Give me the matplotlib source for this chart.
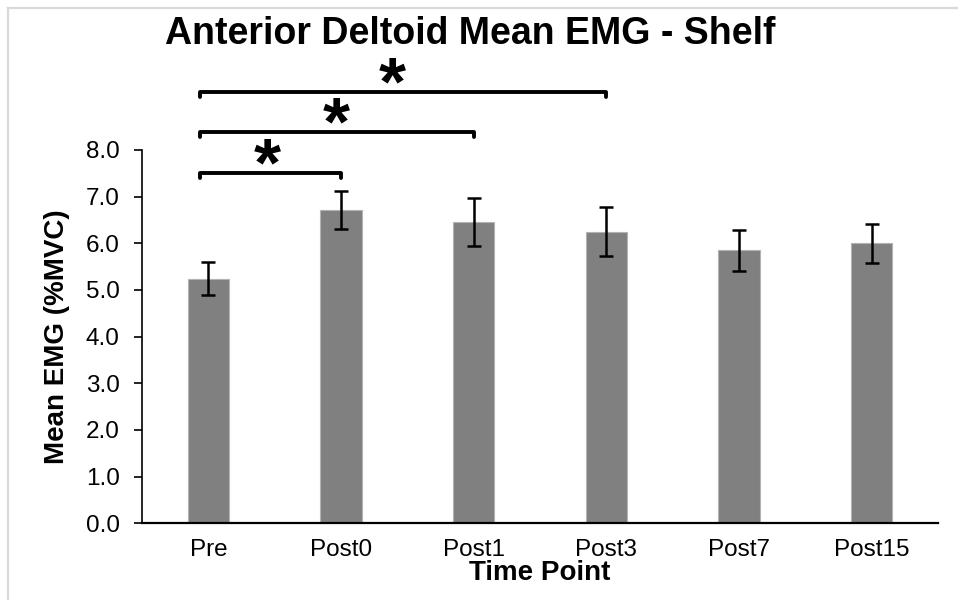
import matplotlib
matplotlib.use("Agg")
import matplotlib.pyplot as plt
from matplotlib.lines import Line2D

plt.rcParams['font.family'] = ['Liberation Sans', 'DejaVu Sans']

# ---- data ----
categories = ["Pre", "Post0", "Post1", "Post3", "Post7", "Post15"]
means = [5.24, 6.71, 6.46, 6.25, 5.85, 6.00]
errors = [0.35, 0.41, 0.51, 0.52, 0.44, 0.42]
y_ticks = [0.0, 1.0, 2.0, 3.0, 4.0, 5.0, 6.0, 7.0, 8.0]
# significance comparisons: (from index, to index, bracket height, star label)
comparisons = [(0, 1, 7.51, "*"), (0, 2, 8.39, "*"), (0, 3, 9.25, "*")]
star_shift = [-0.02, 0.0, -0.08]   # small horizontal nudge of each star from bracket centre

title = "Anterior Deltoid Mean EMG - Shelf"
xlabel = "Time Point"
ylabel = "Mean EMG (%MVC)"

W, H = 958, 600
fig = plt.figure(figsize=(W / 100, H / 100), dpi=100)
ax = fig.add_axes([142 / W, (H - 523.3) / H, (938 - 142) / W, (523.3 - 150) / H])

x = list(range(len(categories)))
ax.bar(x, means, width=0.31, color="#808080", edgecolor="#b3b3b3", linewidth=0.8, zorder=2)
ax.errorbar(x, means, yerr=errors, fmt="none", ecolor="black", elinewidth=1.8,
            capsize=4.8, capthick=1.8, zorder=3)

ax.set_xlim(-0.5, len(categories) - 0.5)
ax.set_ylim(0, 8)
ax.set_yticks(y_ticks)
ax.set_yticklabels([f"{v:.1f}" for v in y_ticks])
ax.set_xticks(x)
ax.set_xticklabels(categories)

ax.tick_params(axis="y", labelsize=17.5, length=6, width=1.2, pad=10, colors="black")
ax.tick_params(axis="x", labelsize=17.5, length=0, pad=11, colors="black")

for s in ["top", "right"]:
    ax.spines[s].set_visible(False)
ax.spines["left"].set_linewidth(1.2)
ax.spines["bottom"].set_linewidth(1.6)
ax.spines["left"].set_color("black")
ax.spines["bottom"].set_color("black")

# significance brackets
hook = 0.12
for (i0, i1, h, lab), dx in zip(comparisons, star_shift):
    xl = i0 - 0.065
    xr = i1
    ax.plot([xl, xl, xr, xr], [h - hook, h, h, h - hook], color="black", lw=2.8,
            solid_joinstyle="round", solid_capstyle="round", clip_on=False, zorder=4)
    ax.text((xl + xr) / 2 + dx, h + 0.12, lab, ha="center", va="center",
            fontsize=50, fontweight="bold", clip_on=False)

# texts
fig.text(470 / W, 1 - 34.5 / H, title, ha="center", va="center", fontsize=27, fontweight="bold")
fig.text(540 / W, 1 - 573 / H, xlabel, ha="center", va="center", fontsize=20, fontweight="bold")
fig.text(57.5 / W, 1 - 336.7 / H, ylabel, ha="center", va="center", rotation=90,
         fontsize=20, fontweight="bold")

# chart area border (light gray)
fig.add_artist(Line2D([8 / W, 8 / W], [0, 1 - 8 / H], color="#d9d9d9", lw=1.6))
fig.add_artist(Line2D([8 / W, 1], [1 - 8 / H, 1 - 8 / H], color="#d9d9d9", lw=1.6))

fig.savefig("out.png", dpi=100)
